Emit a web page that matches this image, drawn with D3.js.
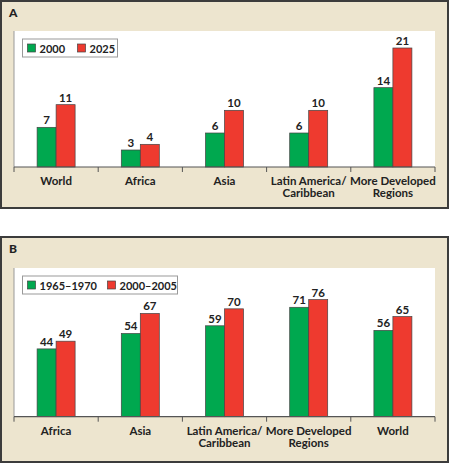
<!DOCTYPE html>
<html><head><meta charset="utf-8">
<script src="https://cdn.jsdelivr.net/npm/d3@7"></script>
<style>body{margin:0;background:#fff}svg{display:block}text{font-family:Lato,"Open Sans",sans-serif;fill:#222}</style>
</head><body>
<svg id="c" width="450" height="464"></svg>
<script>
// Panel A data
const catsA = [["World"],["Africa"],["Asia"],["Latin America/","Caribbean"],["More Developed","Regions"]];
const seriesA = ["2000","2025"];
const valsA2000 = [7,3,6,6,14];
const valsA2025 = [11,4,10,10,21];
// Panel B data
const catsB = [["Africa"],["Asia"],["Latin America/","Caribbean"],["More Developed","Regions"],["World"]];
const seriesB = ["1965–1970","2000–2005"];
const valsB1 = [44,54,59,71,56];
const valsB2 = [49,67,70,76,65];

const colors = ["#00a84f","#ee3a2f"];
const svg = d3.select("#c");

function panel(cfg){
  const g = svg.append("g");
  g.append("rect").attr("x",cfg.box[0]).attr("y",cfg.box[1]).attr("width",cfg.box[2]).attr("height",cfg.box[3])
    .attr("fill","#ede5cf").attr("stroke","#3c3c3c").attr("stroke-width",2);
  g.append("text").attr("x",cfg.box[0]+8).attr("y",cfg.box[1]+16).text(cfg.label)
    .attr("font-weight",900).attr("font-size",12);
  const x = d3.scaleBand().domain(d3.range(cfg.cats.length)).range([cfg.left,cfg.right]);
  const y = d3.scaleLinear().domain([0,cfg.ymax]).range([cfg.bottom,cfg.top]);
  g.append("rect").attr("x",cfg.left).attr("y",cfg.top).attr("width",cfg.right-cfg.left).attr("height",cfg.bottom-cfg.top).attr("fill","#fff");
  g.append("line").attr("x1",cfg.left).attr("x2",cfg.left).attr("y1",cfg.top).attr("y2",cfg.bottom).attr("stroke","#999").attr("stroke-width",1);
  const bw = 19;
  const sets = [cfg.v1,cfg.v2];
  sets.forEach((vals,si)=>{
    g.selectAll(null).data(vals).enter().append("rect")
      .attr("x",(d,i)=>x(i)+x.bandwidth()/2 - bw + si*bw)
      .attr("y",d=>y(d)).attr("width",bw).attr("height",d=>y(0)-y(d))
      .attr("fill",colors[si]).attr("stroke","#444").attr("stroke-width",0.7);
    g.selectAll(null).data(vals).enter().append("text")
      .attr("x",(d,i)=>x(i)+x.bandwidth()/2 - bw/2 + si*bw)
      .attr("y",d=>y(d)-3).attr("text-anchor","middle")
      .attr("font-weight",700).attr("font-size",11.5).text(d=>d);
  });
  const ax = g.append("g");
  ax.append("line").attr("x1",cfg.left).attr("x2",cfg.right).attr("y1",cfg.bottom).attr("y2",cfg.bottom).attr("stroke","#555").attr("stroke-width",1.2);
  const ticks = d3.range(cfg.cats.length+1).map(i=> i<cfg.cats.length ? x(i) : cfg.right);
  ax.selectAll(null).data(ticks).enter().append("line")
    .attr("x1",d=>d).attr("x2",d=>d).attr("y1",cfg.bottom).attr("y2",cfg.bottom+5).attr("stroke","#555").attr("stroke-width",1);
  cfg.cats.forEach((lines,i)=>{
    const t = ax.append("text").attr("text-anchor","middle").attr("font-weight",700).attr("font-size",11.5);
    lines.forEach((l,j)=>t.append("tspan").attr("x",x(i)+x.bandwidth()/2).attr("y",cfg.bottom+18+j*12).text(l));
  });
  const lg = g.append("g");
  lg.append("rect").attr("x",cfg.leg[0]).attr("y",cfg.leg[1]).attr("width",cfg.leg[2]).attr("height",18)
    .attr("fill","#fff").attr("stroke","#999").attr("stroke-width",1);
  cfg.series.forEach((s,i)=>{
    const lx = cfg.leg[0]+5+i*cfg.legStep;
    lg.append("rect").attr("x",lx).attr("y",cfg.leg[1]+5).attr("width",8).attr("height",8).attr("fill",colors[i]).attr("stroke","#444").attr("stroke-width",0.7);
    lg.append("text").attr("x",lx+12).attr("y",cfg.leg[1]+13.5).attr("font-size",11).attr("font-weight",700).text(s);
  });
}

panel({box:[1,1,447,207],label:"A",cats:catsA,series:seriesA,v1:valsA2000,v2:valsA2025,
  left:14,right:435,top:31,bottom:167,ymax:24,leg:[22.5,39,95],legStep:50});
panel({box:[1,237,447,225],label:"B",cats:catsB,series:seriesB,v1:valsB1,v2:valsB2,
  left:14,right:435,top:268,bottom:416.7,ymax:96.5,leg:[22.5,276,155],legStep:80});
</script>
</body></html>
